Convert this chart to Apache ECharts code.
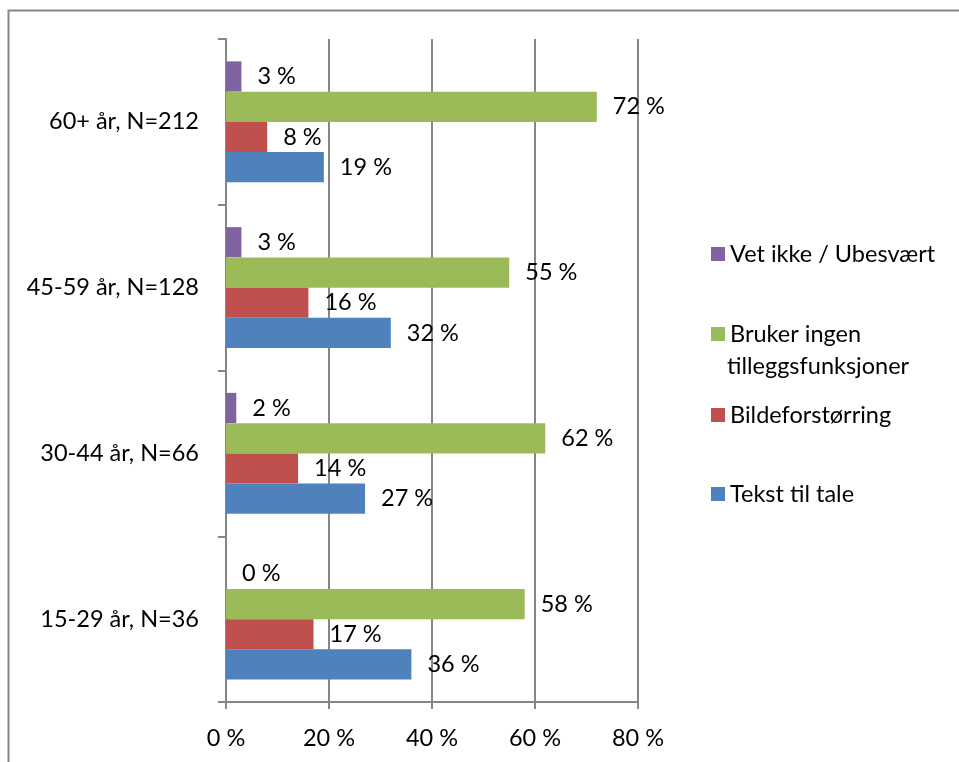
<!DOCTYPE html>
<html>
<head>
<meta charset="utf-8">
<script src="https://cdn.jsdelivr.net/npm/echarts@6/dist/echarts.min.js"></script>
<style>
  html, body { margin: 0; padding: 0; background: #fff; }
  #chart { width: 959px; height: 762px; }
</style>
</head>
<body>
<div id="chart"></div>
<script>
  // kategorier, nederst til øverst
  var categories = ['15-29 år, N=36', '30-44 år, N=66', '45-59 år, N=128', '60+ år, N=212'];
  var seriesNames = ['Vet ikke / Ubesvært', 'Bruker ingen tilleggsfunksjoner', 'Bildeforstørring', 'Tekst til tale'];
  var vetIkke = [0, 2, 3, 3];
  var brukerIngen = [58, 62, 55, 72];
  var bildeforstorring = [17, 14, 16, 8];
  var tekstTilTale = [36, 27, 32, 19];
  var xTicks = [0, 20, 40, 60, 80];

  // første serie havner øverst i hver gruppe
  var colors = ['#8064A2', '#9BBB59', '#C0504D', '#4F81BD'];
  var values = [vetIkke, brukerIngen, bildeforstorring, tekstTilTale];
  var font = 'Lato, "Open Sans", sans-serif';
  var fontSize = 23.5;
  var gray = '#868686';

  var myChart = echarts.init(document.getElementById('chart'));

  var series = seriesNames.map(function (name, i) {
    return {
      name: name,
      type: 'bar',
      data: values[i],
      barGap: '0%',
      barCategoryGap: '27%',
      itemStyle: { color: colors[i] },
      label: {
        show: true,
        position: 'right',
        distance: 16,
        formatter: '{c} %',
        color: '#000',
        fontFamily: font,
        fontSize: fontSize
      },
      animation: false
    };
  });

  // en legende per linje, slik som i originalen
  var legendTops = [235, 315, 396, 475];
  var legends = seriesNames.map(function (name, k) {
    return {
      data: [name],
      left: 706,
      top: legendTops[k],
      orient: 'vertical',
      itemWidth: 14,
      itemHeight: 14,
      itemGap: 0,
      icon: 'rect',
      selectedMode: false,
      formatter: function (n) {
        return n === 'Bruker ingen tilleggsfunksjoner' ? 'Bruker ingen' : n;
      },
      textStyle: { fontFamily: font, fontSize: fontSize, lineHeight: 28, color: '#000' }
    };
  });

  var option = {
    backgroundColor: '#fff',
    animation: false,
    grid: { left: 226, right: 321, top: 39, bottom: 60 },
    legend: legends,
    xAxis: {
      type: 'value',
      min: xTicks[0],
      max: xTicks[xTicks.length - 1],
      interval: 20,
      axisLine: { show: true, lineStyle: { color: gray, width: 2 } },
      axisTick: { show: true, length: 7, lineStyle: { color: gray, width: 2 } },
      splitLine: { show: true, lineStyle: { color: gray, width: 2 } },
      axisLabel: { formatter: '{value} %', margin: 24, color: '#000', fontFamily: font, fontSize: fontSize }
    },
    yAxis: {
      type: 'category',
      data: categories,
      axisLine: { show: true, lineStyle: { color: gray, width: 2 } },
      axisTick: { show: true, length: 8, lineStyle: { color: gray, width: 2 } },
      axisLabel: { margin: 27, color: '#000', fontFamily: font, fontSize: fontSize }
    },
    graphic: [
      {
        type: 'rect',
        shape: { x: 8.5, y: 10.5, width: 1000, height: 1000 },
        style: { fill: 'none', stroke: gray, lineWidth: 2 },
        silent: true
      },
      {
        type: 'text',
        left: 727,
        top: 352,
        style: { text: 'tilleggsfunksjoner', fill: '#000', font: fontSize + 'px ' + font, lineHeight: 28 }
      }
    ],
    series: series
  };

  myChart.setOption(option);
</script>
</body>
</html>
